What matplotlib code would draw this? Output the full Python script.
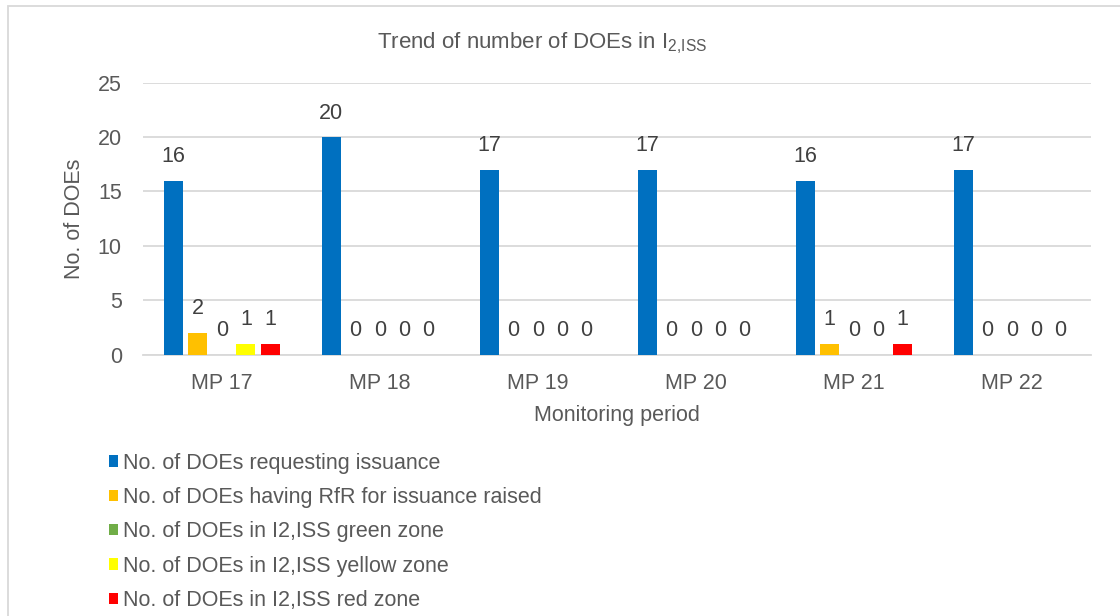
import numpy as np
import matplotlib
matplotlib.use("Agg")
import matplotlib.pyplot as plt
from matplotlib.patches import Rectangle

plt.rcParams['font.family'] = ['Liberation Sans', 'DejaVu Sans']
plt.rcParams['mathtext.fontset'] = 'custom'
plt.rcParams['mathtext.rm'] = 'Liberation Sans'

# =====================================================
# data
# =====================================================

periods = ["MP 17", "MP 18", "MP 19", "MP 20", "MP 21", "MP 22"]

requesting = [16, 20, 17, 17, 16, 17]
rfr_raised = [2, 0, 0, 0, 1, 0]
green_zone = [0, 0, 0, 0, 0, 0]
yellow_zone = [1, 0, 0, 0, 0, 0]
red_zone = [1, 0, 0, 0, 1, 0]

series_names = [
    "No. of DOEs requesting issuance",
    "No. of DOEs having RfR for issuance raised",
    "No. of DOEs in I2,ISS green zone",
    "No. of DOEs in I2,ISS yellow zone",
    "No. of DOEs in I2,ISS red zone",
]
colors = ["#0070C0", "#FFC000", "#70AD47", "#FFFF00", "#FF0000"]

TXT = "#595959"
GRID = "#D9D9D9"
FS = 15.5

# =====================================================
# plot
# =====================================================

fig = plt.figure(figsize=(11.2, 6.16), dpi=100)
ax = fig.add_axes([0.1274, 0.4245, 0.974 - 0.1274, 0.8657 - 0.4245])

x = np.arange(len(periods))
step = 0.1536
width = 0.12

all_series = [requesting, rfr_raised, green_zone, yellow_zone, red_zone]
handles = []
for i, (vals, col, name) in enumerate(zip(all_series, colors, series_names)):
    bars = ax.bar(x + (i - 2) * step, vals, width, color=col, label=name,
                  zorder=3)
    handles.append(bars)
    for b, v in zip(bars, vals):
        ax.annotate(str(v), (b.get_x() + b.get_width() / 2, v),
                    xytext=(0, 17.3), textcoords="offset points",
                    ha="center", va="center", fontsize=FS, color="#404040")

ax.set_xlim(-0.5, len(periods) - 0.5)
ax.set_ylim(0, 25)
ax.set_yticks(range(0, 26, 5))
ax.set_xticks(x)
ax.set_xticklabels(periods)
ax.tick_params(length=0, labelsize=FS, colors=TXT)
ax.tick_params(axis="y", pad=15)
ax.tick_params(axis="x", pad=13)

ax.grid(axis="y", color=GRID, linewidth=1.3, zorder=0)
for s in ["left", "right", "top"]:
    ax.spines[s].set_visible(False)
ax.spines["bottom"].set_color(GRID)
ax.spines["bottom"].set_linewidth(1.3)

ax.set_ylabel("No. of DOEs", fontsize=FS, color=TXT, labelpad=9)
ax.set_xlabel("Monitoring period", fontsize=FS, color=TXT, labelpad=8)

fig.text(0.484, 1 - 43 / 616, r"Trend of number of DOEs in I$_\mathregular{2{,}ISS}$",
         ha="center", va="center", fontsize=16, color=TXT)

leg = fig.legend(handles=handles, loc="upper left",
                 bbox_to_anchor=(0.09, 1 - 444 / 616),
                 frameon=False, fontsize=FS, labelcolor=TXT,
                 handlelength=0.42, handleheight=0.42, handletextpad=0.2,
                 labelspacing=0.62, borderaxespad=0)

# outer chart border (right/bottom edges run off the picture)
fig.patches.append(Rectangle((8 / 1120, -0.1), 1.2, 1.1 - 6 / 616,
                             transform=fig.transFigure, fill=False,
                             edgecolor=GRID, linewidth=1.3))

plt.savefig("out.png", dpi=100)
